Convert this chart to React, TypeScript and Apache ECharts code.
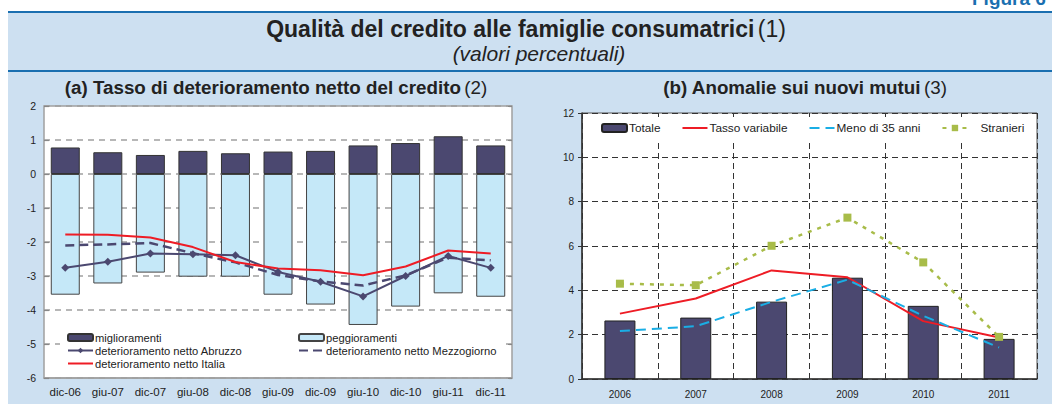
import React, { useEffect, useRef } from "react";
import * as echarts from "echarts";

// Panel (a)
const periods = ["dic-06", "giu-07", "dic-07", "giu-08", "dic-08", "giu-09", "dic-09", "giu-10", "dic-10", "giu-11", "dic-11"];
const miglioramenti = [0.78, 0.64, 0.56, 0.68, 0.61, 0.66, 0.68, 0.84, 0.91, 1.11, 0.84];
const peggioramenti = [-3.55, -3.22, -2.9, -3.02, -3.02, -3.55, -3.84, -4.44, -3.9, -3.51, -3.61];
const abruzzo = [-2.76, -2.58, -2.34, -2.36, -2.39, -2.88, -3.17, -3.6, -3.0, -2.41, -2.76];
const mezzogiorno = [-2.1, -2.07, -2.03, -2.33, -2.6, -2.97, -3.16, -3.28, -2.98, -2.46, -2.54];
const italia = [-1.78, -1.79, -1.87, -2.15, -2.59, -2.78, -2.83, -2.98, -2.72, -2.25, -2.34];
const axisA = { min: -6, max: 2, interval: 1 };

// Panel (b)
const years = ["2006", "2007", "2008", "2009", "2010", "2011"];
const totale = [2.64, 2.77, 3.49, 4.57, 3.3, 1.81];
const tassoVariabile = [2.95, 3.63, 4.9, 4.59, 2.61, 1.87];
const meno35 = [2.16, 2.38, 3.48, 4.48, 2.85, 1.42];
const stranieri = [4.3, 4.23, 6.01, 7.28, 5.26, 1.9];
const axisB = { min: 0, max: 12, interval: 2 };

const FONT = "'Liberation Sans', Arial, Helvetica, sans-serif";
const BLUE = "#1a6fb0";
const NAVY = "#4b4870";
const noDot = { opacity: 0 };

export default function App() {
  const ref = useRef<HTMLDivElement>(null);
  useEffect(() => {
    const chart = echarts.init(ref.current!, null, { renderer: "svg" });
    chart.setOption({
      animation: false,
      backgroundColor: "#cde0f1",
      textStyle: { fontFamily: FONT },
      graphic: [
        { type: "rect", silent: true, z: 0, shape: { x: 0, y: 0, width: 1052, height: 11 }, style: { fill: "#fff" } },
        { type: "rect", silent: true, z: 0, shape: { x: 0, y: 0, width: 8, height: 404 }, style: { fill: "#fff" } },
        { type: "rect", silent: true, z: 0, shape: { x: 8, y: 11, width: 1044, height: 2 }, style: { fill: BLUE } },
        { type: "rect", silent: true, z: 0, shape: { x: 8, y: 70, width: 1044, height: 2 }, style: { fill: BLUE } },
        { type: "rect", silent: true, z: 1, shape: { x: 60, y: 329, width: 446, height: 48 }, style: { fill: "#fff" } },
        {
          type: "text", x: 972, y: 8, silent: true,
          style: { text: "Figura 6", fontFamily: FONT, fontSize: 19, fontWeight: "bold", fill: BLUE, verticalAlign: "bottom" },
        },
        {
          type: "text", x: 526, y: 29, silent: true,
          style: {
            text: "{b|Qualità del credito alle famiglie consumatrici} {n|(1)}",
            rich: {
              b: { fontFamily: FONT, fontSize: 23, fontWeight: "bold", fill: "#222" },
              n: { fontFamily: FONT, fontSize: 23, fill: "#222" },
            },
            align: "center", verticalAlign: "middle",
          },
        },
        {
          type: "text", x: 539, y: 53, silent: true,
          style: { text: "(valori percentuali)", fontFamily: FONT, fontSize: 21, fontStyle: "italic", fill: "#222", align: "center", verticalAlign: "middle" },
        },
        {
          type: "text", x: 276, y: 87, silent: true,
          style: {
            text: "{b|(a) Tasso di deterioramento netto del credito} {n|(2)}",
            rich: {
              b: { fontFamily: FONT, fontSize: 18.8, fontWeight: "bold", fill: "#222" },
              n: { fontFamily: FONT, fontSize: 18.8, fill: "#222" },
            },
            align: "center", verticalAlign: "middle",
          },
        },
        {
          type: "text", x: 805, y: 87, silent: true,
          style: {
            text: "{b|(b) Anomalie sui nuovi mutui} {n|(3)}",
            rich: {
              b: { fontFamily: FONT, fontSize: 18.8, fontWeight: "bold", fill: "#222" },
              n: { fontFamily: FONT, fontSize: 18.8, fill: "#222" },
            },
            align: "center", verticalAlign: "middle",
          },
        },
      ],
      grid: [
        { left: 44, top: 106, width: 468, height: 272, show: true, backgroundColor: "#fff", borderColor: "#a0a0a0", borderWidth: 1.5 },
        { left: 582, top: 113, width: 455, height: 266, show: true, backgroundColor: "#fff", borderColor: "#555", borderWidth: 1 },
      ],
      xAxis: [
        {
          type: "category", gridIndex: 0, data: periods,
          axisLine: { show: true, onZero: false, lineStyle: { color: "#a0a0a0", width: 1.5 } },
          axisTick: { show: false },
          axisLabel: { fontSize: 11.5, color: "#222", margin: 8 },
          splitLine: { show: false },
        },
        {
          type: "category", gridIndex: 1, data: years,
          axisLine: { show: true, onZero: false, lineStyle: { color: "#333", width: 1.5 } },
          axisTick: { show: false },
          axisLabel: { fontSize: 10, color: "#222", margin: 10 },
          splitLine: { show: true, lineStyle: { color: "#333", type: [6, 4], width: 1 } },
        },
      ],
      yAxis: [
        {
          type: "value", gridIndex: 0, ...axisA,
          axisLine: { show: false },
          axisTick: { show: true, inside: true, length: 5, lineStyle: { color: "#888", width: 1.2 } },
          axisLabel: { fontSize: 10.5, color: "#222", margin: 8 },
          splitLine: { show: true, lineStyle: { color: "#a0a0a0", type: [6, 5], width: 1.5 } },
        },
        {
          type: "value", gridIndex: 0, position: "right", ...axisA,
          axisLine: { show: false },
          axisTick: { show: true, inside: true, length: 4, lineStyle: { color: "#888", width: 1.2 } },
          axisLabel: { show: false },
          splitLine: { show: false },
        },
        {
          type: "value", gridIndex: 1, ...axisB,
          axisLine: { show: true, lineStyle: { color: "#333", width: 1.5 } },
          axisTick: { show: true, length: 4, lineStyle: { color: "#333" } },
          axisLabel: { fontSize: 10, color: "#222", margin: 8 },
          splitLine: { show: true, lineStyle: { color: "#333", type: [6, 4], width: 1 } },
        },
      ],
      legend: [
        {
          data: [
            "miglioramenti",
            "deterioramento netto Abruzzo",
            { name: "deterioramento netto Italia", itemStyle: noDot },
          ],
          orient: "vertical", left: 62, top: 327, itemGap: 2, itemWidth: 25, itemHeight: 7,
          selectedMode: false, textStyle: { fontSize: 11.2, color: "#222", fontFamily: FONT, padding: [0, 0, 0, -3] },
        },
        {
          data: ["peggioramenti", { name: "deterioramento netto Mezzogiorno", itemStyle: noDot }],
          orient: "vertical", left: 293, top: 327, itemGap: 2, itemWidth: 25, itemHeight: 7,
          selectedMode: false, textStyle: { fontSize: 11.2, color: "#222", fontFamily: FONT, padding: [0, 0, 0, -3] },
        },
        {
          data: [
            "Totale",
            { name: "Tasso variabile", itemStyle: noDot },
            { name: "Meno di 35 anni", itemStyle: noDot },
            { name: "Stranieri", textStyle: { padding: [0, 0, 0, 8] } },
          ],
          orient: "horizontal", left: 596, top: 117, itemGap: 21, itemWidth: 25, itemHeight: 8,
          backgroundColor: "#fff", selectedMode: false,
          textStyle: { fontSize: 11.8, color: "#222", fontFamily: FONT, padding: [0, 0, 0, -3] },
        },
      ],
      series: [
        {
          name: "miglioramenti", type: "bar", xAxisIndex: 0, yAxisIndex: 0, data: miglioramenti,
          barWidth: 29, barGap: "-100%", itemStyle: { color: NAVY, borderColor: "#333", borderWidth: 1 },
        },
        {
          name: "peggioramenti", type: "bar", xAxisIndex: 0, yAxisIndex: 0, data: peggioramenti,
          barWidth: 29, barGap: "-100%", itemStyle: { color: "#c5e8f8", borderColor: "#444", borderWidth: 1 },
        },
        {
          name: "deterioramento netto Abruzzo", type: "line", xAxisIndex: 0, yAxisIndex: 0, data: abruzzo,
          symbol: "diamond", symbolSize: 8, lineStyle: { color: NAVY, width: 2 }, itemStyle: { color: NAVY },
        },
        {
          name: "deterioramento netto Mezzogiorno", type: "line", xAxisIndex: 0, yAxisIndex: 0, data: mezzogiorno,
          symbol: "none", lineStyle: { color: NAVY, width: 2.5, type: [9, 5] }, itemStyle: { color: NAVY },
        },
        {
          name: "deterioramento netto Italia", type: "line", xAxisIndex: 0, yAxisIndex: 0, data: italia,
          symbol: "none", lineStyle: { color: "#ee1c25", width: 2 }, itemStyle: { color: "#ee1c25" },
        },
        {
          name: "Totale", type: "bar", xAxisIndex: 1, yAxisIndex: 2, data: totale,
          barWidth: 31, itemStyle: { color: NAVY, borderColor: "#222", borderWidth: 1 },
        },
        {
          name: "Tasso variabile", type: "line", xAxisIndex: 1, yAxisIndex: 2, data: tassoVariabile,
          symbol: "none", lineStyle: { color: "#ee1c25", width: 2 }, itemStyle: { color: "#ee1c25" },
        },
        {
          name: "Meno di 35 anni", type: "line", xAxisIndex: 1, yAxisIndex: 2, data: meno35,
          symbol: "none", lineStyle: { color: "#1aaee5", width: 2, type: [10, 6] }, itemStyle: { color: "#1aaee5" },
        },
        {
          name: "Stranieri", type: "line", xAxisIndex: 1, yAxisIndex: 2, data: stranieri,
          symbol: "rect", symbolSize: 8, lineStyle: { color: "#a8bc49", width: 2.5, type: [4, 6] }, itemStyle: { color: "#a8bc49" },
        },
      ],
    });
    return () => chart.dispose();
  }, []);
  return <div ref={ref} style={{ position: "fixed", left: 0, top: 0, width: 1052, height: 404 }} />;
}
